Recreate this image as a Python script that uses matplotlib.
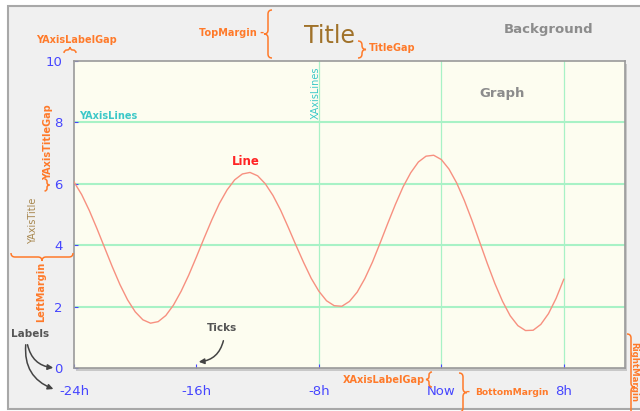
import matplotlib
matplotlib.use("Agg")
import matplotlib.pyplot as plt
from matplotlib.patches import Rectangle, PathPatch
from matplotlib.path import Path

# data (every half hour)
hours = [h / 2 for h in range(-48, 17)]
values = [6.06, 5.65, 5.13, 4.54, 3.92, 3.30, 2.72, 2.22, 1.83, 1.57,
          1.46, 1.51, 1.71, 2.05, 2.50, 3.03, 3.62, 4.23, 4.82, 5.36,
          5.80, 6.13, 6.32, 6.37, 6.26, 6.00, 5.62, 5.14, 4.58, 4.00,
          3.44, 2.92, 2.50, 2.19, 2.03, 2.01, 2.17, 2.47, 2.91, 3.45,
          4.07, 4.71, 5.33, 5.90, 6.36, 6.71, 6.90, 6.93, 6.79, 6.48,
          6.03, 5.46, 4.81, 4.11, 3.41, 2.75, 2.17, 1.70, 1.38, 1.22,
          1.23, 1.42, 1.77, 2.27, 2.89]
x_ticks = [-24, -16, -8, 0, 8]
x_labels = ["-24h", "-16h", "-8h", "Now", "8h"]
y_ticks = [0, 2, 4, 6, 8, 10]
y_grid = [2, 4, 6, 8]
x_grid = [-8, 0, 8]

W, H = 640, 411
ORANGE = "#ff7a2a"
BLUE = "#4646ff"
GREEN = "#a8f2c6"
CYAN = "#3cc8c8"


def fx(x):
    return x / W


def fy(y):
    return 1 - y / H


fig = plt.figure(figsize=(6.4, 4.11), dpi=100)
fig.patch.set_facecolor("white")

# background panel
fig.add_artist(Rectangle((fx(8), fy(409)), 1.0, (409 - 6) / H, transform=fig.transFigure,
                         facecolor="#f0f0f0", edgecolor="#a8a8a8", lw=1.5, zorder=-2))
# shadow of graph box
fig.add_artist(Rectangle((fx(76), fy(371)), (625 - 74) / W, (368 - 61) / H, transform=fig.transFigure,
                         facecolor="#c8c8c8", edgecolor="none", zorder=-1))

ax = fig.add_axes([fx(74), fy(368), (625 - 74) / W, (368 - 61) / H])
ax.set_facecolor("#fdfdf0")
ax.set_xlim(-24, 12)
ax.set_ylim(0, 10)

for y in y_grid:
    ax.axhline(y, color=GREEN, lw=1.5, zorder=1)
for x in x_grid:
    ax.axvline(x, color=GREEN, lw=0.9, zorder=1)

ax.plot(hours, values, color="#f79080", lw=1.0, zorder=3)

ax.set_xticks(x_ticks)
ax.set_xticklabels(x_labels)
ax.set_yticks(y_ticks)
ax.tick_params(axis="both", direction="in", length=3, color=BLUE, labelcolor=BLUE, labelsize=9.5)
ax.tick_params(axis="x", pad=12)
ax.tick_params(axis="y", pad=8)
for s in ax.spines.values():
    s.set_color("#9a9a9a")
    s.set_linewidth(1.2)

ax.set_ylabel("YAxisTitle", color="#a88850", fontsize=7)
ax.yaxis.set_label_coords(-0.065, 0.48)
ax.set_title("Title", color="#a0722a", fontsize=17, x=(330 - 74) / 551, pad=13)


def label(x, y, s, color=ORANGE, size=7, weight="bold", **kw):
    fig.text(fx(x), fy(y), s, color=color, fontsize=size, fontweight=weight,
             ha=kw.pop("ha", "center"), va=kw.pop("va", "center"), **kw)


def vbrace(x, y0, y1, side, w=4):
    w = min(w, (y1 - y0) / 4)
    ym = (y0 + y1) / 2
    pts = [(x - side * w, y0), (x, y0), (x, y0 + w), (x, ym - w), (x, ym),
           (x + side * w, ym), (x, ym), (x, ym + w), (x, y1 - w), (x, y1), (x - side * w, y1)]
    draw_brace(pts)


def hbrace(y, x0, x1, side, w=4):
    w = min(w, (x1 - x0) / 4)
    xm = (x0 + x1) / 2
    pts = [(x0, y - side * w), (x0, y), (x0 + w, y), (xm - w, y), (xm, y),
           (xm, y + side * w), (xm, y), (xm + w, y), (x1 - w, y), (x1, y), (x1, y - side * w)]
    draw_brace(pts)


def draw_brace(pts):
    codes = [Path.MOVETO, Path.CURVE3, Path.CURVE3, Path.LINETO, Path.CURVE3, Path.CURVE3,
             Path.CURVE3, Path.CURVE3, Path.LINETO, Path.CURVE3, Path.CURVE3]
    path = Path([(fx(px), fy(py)) for px, py in pts], codes)
    fig.add_artist(PathPatch(path, fill=False, edgecolor=ORANGE, lw=1.1,
                             transform=fig.transFigure, zorder=5))


# annotation texts
label(232, 33, "TopMargin -")
vbrace(268, 10, 58, -1)
label(76, 40, "YAxisLabelGap")
hbrace(50, 64, 76, -1, w=3)
label(392, 48, "TitleGap")
vbrace(362, 41, 58, +1)
label(549, 29, "Background", color="#8c8c8c", size=9.5)
label(502, 94, "Graph", color="#8c8c8c", size=9.5)
label(108, 116, "YAxisLines", color=CYAN)
label(316, 93, "XAxisLines", color=CYAN, rotation=90, weight="normal")
label(246, 161, "Line", color="#ff2424", size=8.5)
label(48, 142, "YAxisTitleGap", rotation=90)
vbrace(47, 179, 191, +1, w=2.5)
hbrace(257, 11, 73, +1)
label(41, 292, "LeftMargin", rotation=90)
label(384, 380, "XAxisLabelGap")
vbrace(429, 372, 387, -1, w=3)
label(468, 392, "-")
label(512, 392, "BottomMargin", size=6.6)
vbrace(463, 373, 412, +1)
vbrace(631, 334, 440, +1)
label(634, 342, "RightMargin", size=6.2, rotation=270, va="top")
label(30, 334, "Labels", color="#555555", size=7.5)
label(222, 328, "Ticks", color="#555555", size=7.5)

arrow = dict(arrowstyle="-|>", color="#444444", lw=1.1, mutation_scale=8)
ax.annotate("", xy=(fx(56), fy(368)), xytext=(fx(27), fy(342)), xycoords="figure fraction",
            arrowprops=dict(arrow, connectionstyle="arc3,rad=0.4"))
ax.annotate("", xy=(fx(56), fy(390)), xytext=(fx(26), fy(342)), xycoords="figure fraction",
            arrowprops=dict(arrow, connectionstyle="arc3,rad=0.4"))
ax.annotate("", xy=(fx(196), fy(362)), xytext=(fx(224), fy(338)), xycoords="figure fraction",
            arrowprops=dict(arrow, connectionstyle="arc3,rad=-0.4"))

fig.savefig("out.png", dpi=100)
